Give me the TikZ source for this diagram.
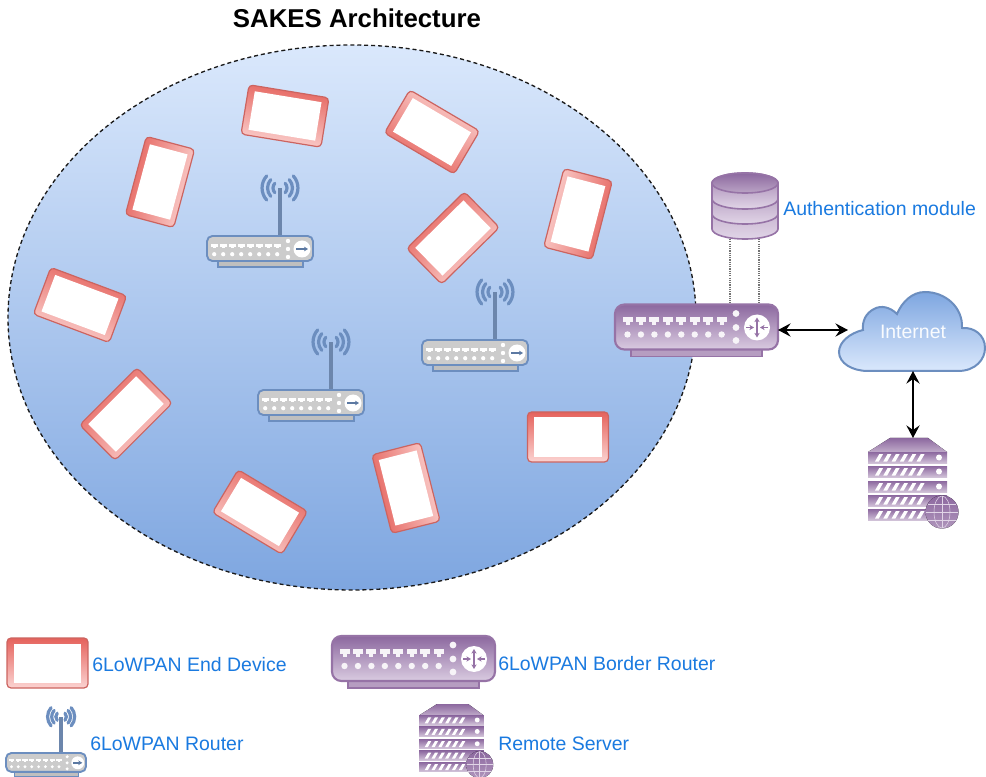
\documentclass[tikz,border=0pt]{standalone}
\usepackage{fontspec}
\setmainfont{Liberation Sans}
\usetikzlibrary{arrows.meta}
\definecolor{purp}{HTML}{9673A6}
\definecolor{purpd}{HTML}{8C689F}
\definecolor{purpl}{HTML}{E1D5E7}
\definecolor{blu}{HTML}{6C8EBF}
\definecolor{blul}{HTML}{DAE8FC}
\definecolor{blud}{HTML}{7EA6E0}
\definecolor{lbl}{HTML}{1A7AE0}
\definecolor{redd}{HTML}{E5625C}
\definecolor{redl}{HTML}{FBD3D1}
\definecolor{reds}{HTML}{CC6460}
\tikzset{
  x=.75pt,y=-.75pt,
  anchornode/.style 2 args={inner sep=0,outer sep=0,minimum width=#1*.75pt,minimum height=#2*.75pt},
  lab/.style={anchor=west,inner sep=0,text=lbl,font=\fontsize{14.6}{16}\selectfont},
  biarrow/.style={{Stealth[length=9.5pt,width=10pt,inset=3.5pt]}-{Stealth[length=9.5pt,width=10pt,inset=3.5pt]},line width=1.1pt,black},
  dotlink/.style={draw=black!55,line width=1.4pt,dash pattern=on .9pt off .8pt},
  pics/tablet/.style={code={
    \draw[draw=reds,line width=.9pt,rounded corners=3pt,top color=redd,bottom color=redl,shading angle=#1] (-40.5,-25) rectangle (40.5,25);
    \fill[white] (-33.8,-19.5) rectangle (33.8,19.5);
  }},
  pics/brouter/.style={code={
    \fill[purp!70,draw=purp,line width=1pt] (16,45) rectangle (147,52);
    \draw[draw=purp,line width=1.6pt,rounded corners=7pt,top color=purpd,bottom color=purpl!90!purp] (0,0) rectangle (163,45);
    \foreach \i in {0,...,7}{
      \fill[white!92!purp] ({7.5+\i*13.45},13) rectangle ({17.5+\i*13.45},18);
      \fill[white!92!purp] ({10.5+\i*13.45},18) rectangle ({14.5+\i*13.45},20.5);
      \fill[white!92!purp] ({12.5+\i*13.45},30) circle (3.2);
    }
    \foreach \yy in {9,23,36}{\fill[white!92!purp] (121,\yy) circle (3.4);}
    \fill[white] (142,23) circle (13);
    \draw[purp,line width=1.1pt,{Stealth[length=3.5pt,width=4pt]}-{Stealth[length=3.5pt,width=4pt]}] (142,13) -- (142,33);
    \draw[purp,line width=1.1pt,-{Stealth[length=3.5pt,width=4pt]}] (131,23) -- (139,23);
    \draw[purp,line width=1.1pt,-{Stealth[length=3.5pt,width=4pt]}] (153,23) -- (145,23);
  }},
  pics/grouter/.style={code={
    \draw[draw=blu!85!black!90,line width=2.5pt] (73,0) -- (73,-48);
    \foreach \r in {7,12.5,18}{
      \draw[blu,line width=2.4pt,line cap=round] ({73+\r*0.74},{-48-\r*0.67}) arc[start angle=42,end angle=-42,x radius=\r,y radius=-\r];
      \draw[blu,line width=2.4pt,line cap=round] ({73-\r*0.74},{-48-\r*0.67}) arc[start angle=138,end angle=222,x radius=\r,y radius=-\r];
    }
    \fill[black!25,draw=blu,line width=1pt] (11,25) rectangle (96,31);
    \draw[draw=blu,line width=1.4pt,rounded corners=4pt,fill=black!20] (0,0) rectangle (106,25);
    \foreach \i in {0,...,7}{
      \fill[white] ({3.8+\i*9},7.8) rectangle ({10.6+\i*9},10.8);
      \fill[white] ({6+\i*9},10.8) rectangle ({8.8+\i*9},12.2);
      \fill[white] ({7.2+\i*9},18.2) circle (2.1);
    }
    \foreach \yy in {5,13,21}{\fill[white] (81,\yy) circle (2.2);}
    \fill[white] (95,13) circle (8.5);
    \draw[blu!85!black,line width=1.1pt,-{Stealth[length=3pt,width=3.5pt]}] (89,13) -- (101,13);
  }},
  pics/srv/.style={code={
    \fill[top color=purpd,bottom color=purp!60] (22,0) -- (60,0) -- (79,14) -- (0,14) -- cycle;
    \foreach \yy in {14,28,43,57,71}{
      \fill[top color=purpd,bottom color=purp!40] (0,\yy) rectangle (79,{\yy+11.8});
      \foreach \i in {0,...,5}{
        \fill[white] ({7+\i*8.3},{\yy+9.5}) -- ({10.8+\i*8.3},{\yy+9.5}) -- ({15+\i*8.3},{\yy+2.2}) -- ({11.2+\i*8.3},{\yy+2.2}) -- cycle;
      }
      \fill[white] (71,{\yy+5.5}) circle (3);
    }
    \fill[top color=purpd,bottom color=purp!75] (74,74) circle (16.5);
    \begin{scope}[purpl,line width=.4pt]
      \draw (74,58) -- (74,90);
      \draw (74,74) ellipse (8 and 16);
      \draw (58,74) -- (90,74);
      \draw (60,66) -- (88,66);
      \draw (60,82) -- (88,82);
    \end{scope}
  }},
}
\begin{document}
\begin{tikzpicture}
\path[use as bounding box,fill=white] (0,0) rectangle (986,777);
% area
\draw[top color=blul,bottom color=blud,draw=black!90,line width=1pt,dash pattern=on 3pt off 2.2pt] (352,317.5) ellipse (344 and 272.5);
\node[font=\bfseries\fontsize{19.35}{22}\selectfont,inner sep=0] (title) at (357,18) {SAKES Architecture};
% end devices
\pic[rotate=-9.3] (t1) at (285,116) {tablet=-9.3};
\pic[rotate=149.5] (t2) at (432,132) {tablet=149.5};
\pic[rotate=75] (t3) at (160,182) {tablet=75};
\pic[rotate=-104.5] (t4) at (578,214) {tablet=-104.5};
\pic[rotate=44.5] (t5) at (453,238) {tablet=44.5};
\pic[rotate=-20.5] (t6) at (80,305) {tablet=-20.5};
\pic[rotate=45] (t7) at (126,414) {tablet=45};
\pic (t8) at (568,437) {tablet=0};
\pic[rotate=-31] (t9) at (260,512) {tablet=-31};
\pic[rotate=104.2] (t10) at (406,488) {tablet=104.2};
% routers
\pic (r1) at (207,236) {grouter};
\pic (r2) at (258,390) {grouter};
\pic (r3) at (422,340) {grouter};
% database
\node[anchornode={66}{66}] (db) at (745,206) {};
\draw[draw=purp,line width=1.2pt,top color=purp!60,bottom color=purpl] (712,214) -- (712,229) arc[start angle=180,end angle=360,x radius=33,y radius=-10] -- (778,214) arc[start angle=0,end angle=180,x radius=33,y radius=-10] -- cycle;
\draw[draw=purp,line width=1.2pt,top color=purp!75,bottom color=purpl] (712,199) -- (712,214) arc[start angle=180,end angle=360,x radius=33,y radius=-10] -- (778,199) arc[start angle=0,end angle=180,x radius=33,y radius=-10] -- cycle;
\draw[draw=purp,line width=1.2pt,top color=purp!90,bottom color=purpl] (712,183) -- (712,199) arc[start angle=180,end angle=360,x radius=33,y radius=-10] -- (778,183) arc[start angle=0,end angle=180,x radius=33,y radius=-10] -- cycle;
\draw[draw=purp,line width=1.2pt,top color=purpd,bottom color=purp!65] (745,183) ellipse (33 and 10);
% border router
\node[anchornode={163}{52}] (br) at (696.5,330) {};
\pic (brp) at (615,304.5) {brouter};
% cloud
\node[anchornode={130}{82}] (cloud) at (913,330) {};
\draw[draw=blu,line width=1.5pt,top color=blud,bottom color=blul]
  (868,371) -- (958,371)
  .. controls (976,371) and (985,359) .. (985,348)
  .. controls (985,335) and (974,327) .. (962,328)
  .. controls (963,307) and (945,292) .. (925,292)
  .. controls (912,292) and (902,302) .. (897,314)
  .. controls (890,307) and (881,305) .. (874,309)
  .. controls (866,313) and (862,321) .. (863,330)
  .. controls (850,333) and (839,342) .. (839,352)
  .. controls (839,363) and (852,371) .. (868,371) -- cycle;
\node[inner sep=0,text=white!85!blul,font=\fontsize{14.6}{16}\selectfont] (inet) at (913,332) {Internet};
% server
\node[anchornode={79}{87}] (srv) at (913,481.5) {};
\pic (srvp) at (868,438) {srv};
% connectors
\coordinate (dba) at (730,239);
\coordinate (dbb) at (759,239);
\coordinate (bra) at (730,303);
\coordinate (brb) at (759,303);
\draw[dotlink] (dba) -- (bra);
\draw[dotlink] (dbb) -- (brb);
\draw[biarrow] (br.east) -- (cloud.west);
\draw[biarrow] (cloud.south) -- (srv.north);
\node[lab] (authl) at (783,209) {Authentication module};
% legend
\pic (lt) at (47.5,663) {tablet=0};
\node[lab] (l1) at (92,665) {6LoWPAN End Device};
\pic[scale=.755] (lr) at (6,753) {grouter};
\node[lab] (l2) at (90,744) {6LoWPAN Router};
\pic (lb) at (332,636) {brouter};
\node[lab] (l3) at (498,664) {6LoWPAN Border Router};
\pic[scale=.82] (ls) at (419,704) {srv};
\node[lab] (l4) at (498,744) {Remote Server};
\end{tikzpicture}
\end{document}
